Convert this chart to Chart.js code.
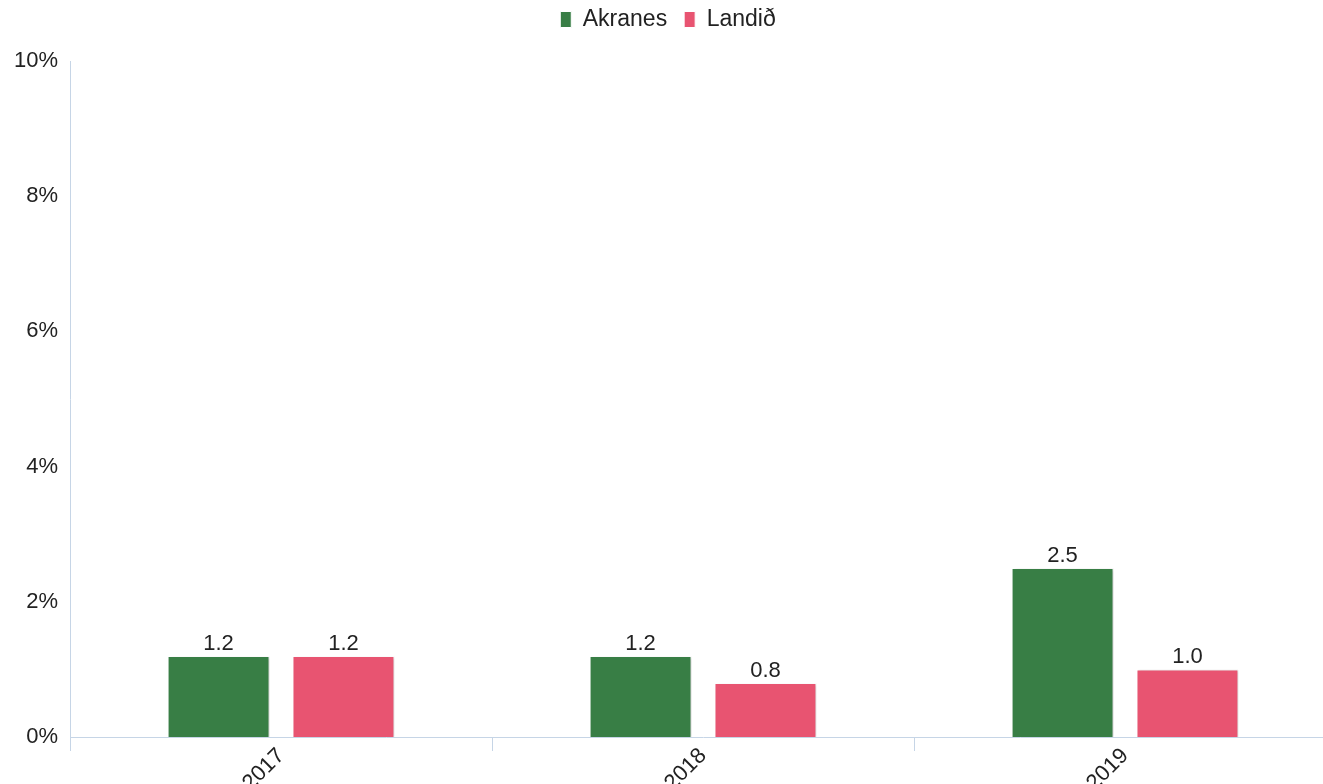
<!DOCTYPE html>
<html>
<head>
<meta charset="utf-8">
<script src="https://cdn.jsdelivr.net/npm/chart.js@4/dist/chart.umd.min.js"></script>
<style>
  html, body { margin: 0; padding: 0; background: #fff; overflow: hidden; }
  #wrap { width: 1336px; height: 784px; }
</style>
</head>
<body>
<div id="wrap"><canvas id="myChart"></canvas></div>
<script>
// gögn
var years = ["2017", "2018", "2019"];
var akranes = [1.2, 1.2, 2.5];
var landid = [1.2, 0.8, 1.0];
var yTicks = [0, 2, 4, 6, 8, 10];

var axisColor = "#c6d5e6";
var textColor = "#222";
var fontFam = "'Liberation Sans', Arial, sans-serif";

// auka bil undir skýringum
var legendGap = {
    id: "legendGap",
    afterInit: function (chart) {
        var legend = chart.legend;
        if (!legend) return;
        var fit = legend.fit;
        legend.fit = function () {
            fit.call(this);
            this.height += 20;
        };
    }
};

// skuggi á súlum
var shadowPlugin = {
    id: "barShadow",
    beforeDatasetsDraw: function (chart) {
        var ctx = chart.ctx;
        ctx.save();
        ctx.shadowColor = "rgba(0,0,0,0.2)";
        ctx.shadowBlur = 3;
        ctx.shadowOffsetX = 2;
        ctx.shadowOffsetY = 1;
    },
    afterDatasetsDraw: function (chart) {
        chart.ctx.restore();
    }
};

// gildi ofan á súlum
var labelPlugin = {
    id: "barLabels",
    afterDatasetsDraw: function (chart) {
        var ctx = chart.ctx;
        ctx.save();
        ctx.font = "22px " + fontFam;
        ctx.fillStyle = textColor;
        ctx.textAlign = "center";
        ctx.textBaseline = "bottom";
        chart.data.datasets.forEach(function (ds, i) {
            chart.getDatasetMeta(i).data.forEach(function (bar, j) {
                ctx.fillText(ds.data[j].toFixed(1), bar.x, bar.y - 1);
            });
        });
        ctx.restore();
    }
};

new Chart(document.getElementById("myChart"), {
    type: "bar",
    data: {
        labels: years,
        datasets: [{
            label: "Akranes",
            data: akranes,
            backgroundColor: "#387e45",
            borderColor: "#ffffff",
            borderWidth: 1,
            categoryPercentage: 0.592,
            barPercentage: 0.816
        }, {
            label: "Landið",
            data: landid,
            backgroundColor: "#e85471",
            borderColor: "#ffffff",
            borderWidth: 1,
            categoryPercentage: 0.592,
            barPercentage: 0.816
        }]
    },
    options: {
        responsive: true,
        maintainAspectRatio: false,
        animation: false,
        layout: { padding: { top: -9, right: 0, left: 0, bottom: 0 } },
        plugins: {
            legend: {
                position: "top",
                labels: {
                    boxWidth: 11,
                    boxHeight: 16,
                    padding: 17,
                    color: textColor,
                    font: { size: 23, family: fontFam }
                }
            },
            tooltip: { enabled: false }
        },
        scales: {
            x: {
                grid: {
                    offset: true,
                    drawOnChartArea: false,
                    drawTicks: true,
                    tickLength: 14,
                    color: axisColor,
                    lineWidth: 1
                },
                border: { display: true, color: axisColor, width: 1 },
                ticks: {
                    minRotation: 45,
                    maxRotation: 45,
                    padding: -8,
                    color: textColor,
                    font: { size: 22, family: fontFam }
                },
                afterFit: function (scale) { scale.height = 47; }
            },
            y: {
                min: 0,
                max: 10,
                afterBuildTicks: function (scale) {
                    scale.ticks = yTicks.map(function (v) { return { value: v }; });
                },
                grid: { display: false, drawTicks: false },
                border: { display: true, color: axisColor, width: 1 },
                ticks: {
                    padding: 12,
                    color: textColor,
                    font: { size: 22, family: fontFam },
                    callback: function (v) { return v + "%"; }
                },
                afterFit: function (scale) { scale.width = 70; }
            }
        }
    },
    plugins: [legendGap, shadowPlugin, labelPlugin]
});
</script>
</body>
</html>
